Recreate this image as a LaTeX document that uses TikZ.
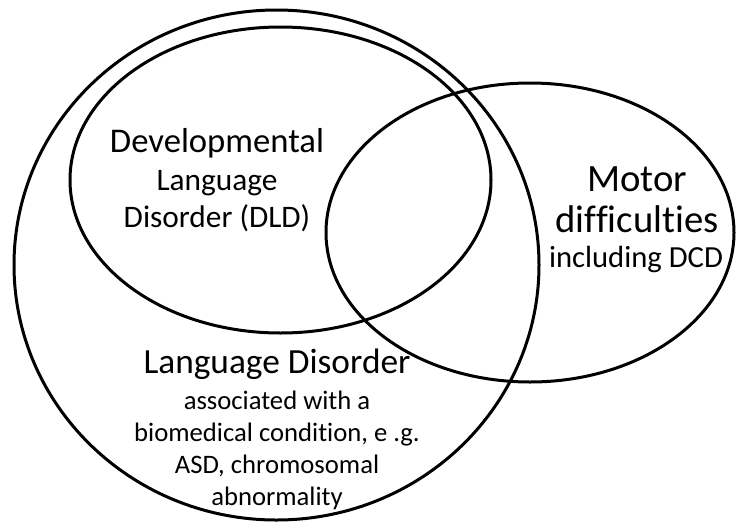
\documentclass[tikz,border=0pt]{standalone}
\usepackage{fontspec}
\setmainfont{Carlito}[Ligatures=NoCommon]

\tikzset{every picture/.style={line width=2.25pt}}

\begin{document}
\begin{tikzpicture}[x=0.75pt,y=0.75pt,yscale=-1,xscale=1]
%set diagram left start at 0, and has height of 522
\useasboundingbox (0,0) rectangle (736,522);

%Shape: Ellipse [id:languageDisorder] 
\draw   (276.5,265) ellipse [x radius=262.5, y radius=255] ;
%Shape: Ellipse [id:dld] 
\draw   (280.5,180) ellipse [x radius=210.5, y radius=153] ;
%Shape: Ellipse [id:motor] 
\draw   (530,232.5) ellipse [x radius=204, y radius=149.5] ;

% Text Node (multi-line nodes sit on their last baseline)
\draw (217,152) node (dldTitle) [anchor=base][inner sep=0.75pt]  [font=\fontsize{26}{28}\selectfont]  {Developmental};
% Text Node
\draw (217,227) node (dldSub) [anchor=base][inner sep=0.75pt] [align=center] [font=\fontsize{23.5}{27.75}\selectfont]  {Language\\Disorder (DLD)};
% Text Node
\draw (637,232) node (motorTitle) [anchor=base][inner sep=0.75pt] [align=center] [font=\fontsize{29}{30.75}\selectfont]  {Motor\\difficulties};
% Text Node
\draw (636,267) node (motorSub) [anchor=base][inner sep=0.75pt]  [font=\fontsize{23}{25}\selectfont]  {including DCD};
% Text Node
\draw (277,373) node (ldTitle) [anchor=base][inner sep=0.75pt]  [font=\fontsize{26.5}{28}\selectfont]  {Language Disorder};
% Text Node
\draw (277,505) node (ldSub) [anchor=base][inner sep=0.75pt] [align=center] [font=\fontsize{20}{24}\selectfont]  {associated with a\\biomedical condition, e .g.\\ASD, chromosomal\\abnormality};

\end{tikzpicture}
\end{document}
